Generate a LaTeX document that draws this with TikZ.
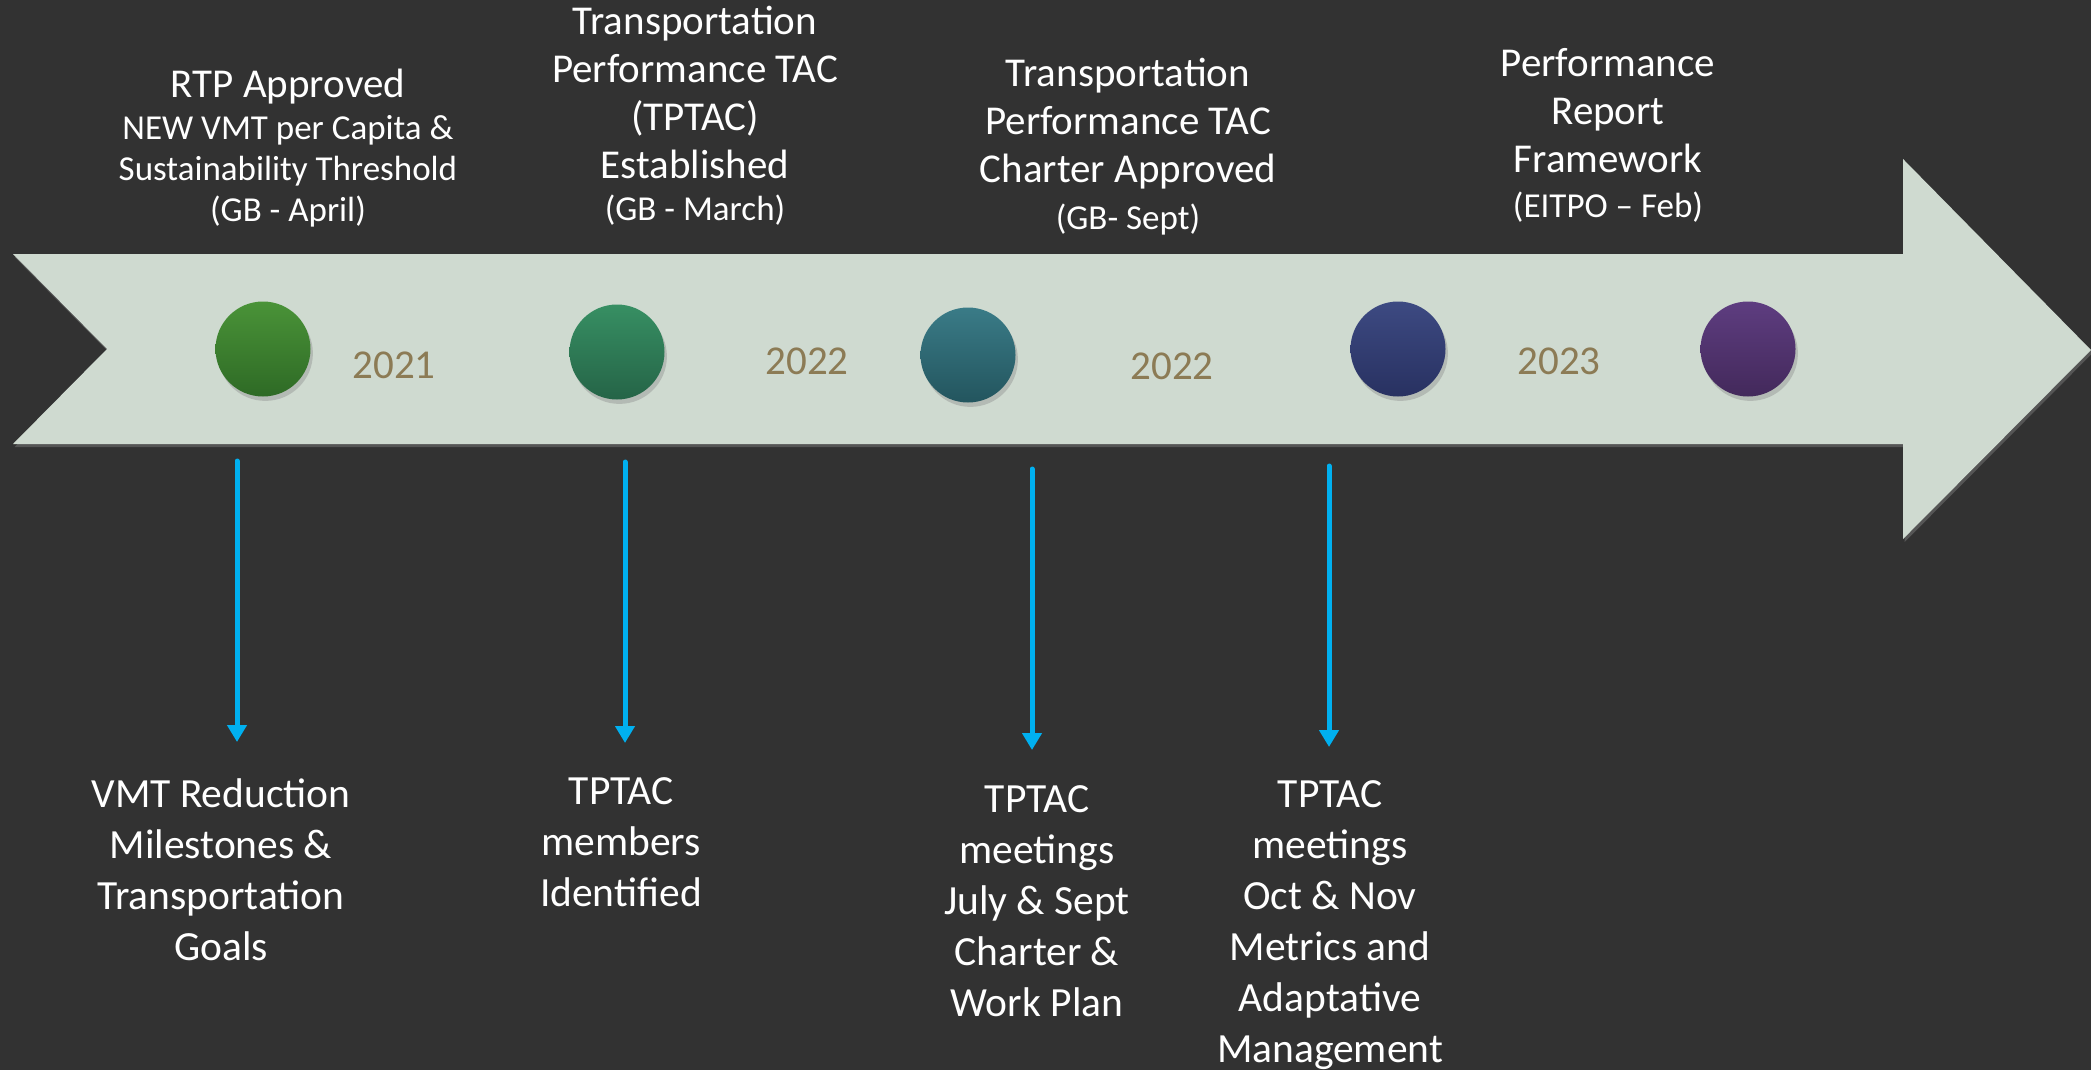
\documentclass[tikz,border=0pt]{standalone}
\usepackage{fontspec}
\setmainfont{Carlito}
\usetikzlibrary{arrows.meta,shadows}

\definecolor{fond}{HTML}{323232}
\definecolor{bande}{HTML}{CFDAD0}
\definecolor{annee}{HTML}{8C7B55}
\definecolor{fleche}{HTML}{00B0F0}
\definecolor{vertHaut}{HTML}{4A9338}
\definecolor{vertBas}{HTML}{2E6A25}
\definecolor{emeraudeHaut}{HTML}{378F63}
\definecolor{emeraudeBas}{HTML}{256447}
\definecolor{sarcelleHaut}{HTML}{3A7B87}
\definecolor{sarcelleBas}{HTML}{23555E}
\definecolor{bleuHaut}{HTML}{3D4A82}
\definecolor{bleuBas}{HTML}{283161}
\definecolor{violetHaut}{HTML}{5E3D80}
\definecolor{violetBas}{HTML}{43295B}

\begin{document}
\begin{tikzpicture}[x=0.5pt,y=-0.5pt]
    \tikzset{PuceStyle/.style =   {circle,minimum size=47.5pt,inner sep=0pt,top color=#1Haut,bottom color=#1Bas,
                                   drop shadow={opacity=.35,shadow xshift=1.2pt,shadow yshift=-2.2pt}}}
    \tikzset{AnneeStyle/.style =  {text=annee,inner sep=0pt,font=\fontsize{20.5}{24}\selectfont}}
    \tikzset{TitreStyle/.style =  {text=white,align=center,inner sep=0pt,font=\fontsize{20.5}{24}\selectfont}}
    \tikzset{DateStyle/.style =   {text=white,align=center,inner sep=0pt,font=\fontsize{17.5}{20.5}\selectfont}}
    \tikzset{NoteStyle/.style =   {text=white,align=center,inner sep=0pt,font=\fontsize{20.75}{25.5}\selectfont}}
    \tikzset{FlecheStyle/.style = {draw=fleche,line width=2.5pt,line cap=round,-{Triangle[width=9.5pt,length=8.5pt]}}}

    \useasboundingbox (0,0) rectangle (2091,1070);
    \fill[fond] (0,0) rectangle (2091,1070);

    % bande
    \path[fill=bande,drop shadow={opacity=.45,shadow xshift=.8pt,shadow yshift=-1.5pt}]
      (13,254) -- (1903,254) -- (1903,159) -- (2091,350) -- (1903,539)
      -- (1903,444) -- (13,444) -- (107,349) -- cycle;

    % jalons
    \node[PuceStyle=vert]      (p1) at (263,349) {};
    \node[PuceStyle=emeraude]  (p2) at (617,352) {};
    \node[PuceStyle=sarcelle]  (p3) at (968,355) {};
    \node[PuceStyle=bleu]      (p4) at (1398,349) {};
    \node[PuceStyle=violet]    (p5) at (1748,349) {};

    \node[AnneeStyle] (an1) at (394,365)  {2021};
    \node[AnneeStyle] (an2) at (807,361)  {2022};
    \node[AnneeStyle] (an3) at (1172,366) {2022};
    \node[AnneeStyle] (an4) at (1559,361) {2023};

    % en haut
    \node[TitreStyle] (ti1) at (288,87)   {RTP Approved};
    \node[DateStyle]  (da1) at (288,171)  {NEW VMT per Capita \&\\Sustainability Threshold\\(GB - April)};
    \node[TitreStyle] (ti2) at (695,92)   {Transportation\\Performance TAC\\(TPTAC)\\Established};
    \node[DateStyle]  (da2) at (695,210)  {(GB - March)};
    \node[TitreStyle] (ti3) at (1128,124) {Transportation\\Performance TAC\\Charter Approved};
    \node[DateStyle]  (da3) at (1128,220) {(GB- Sept)};
    \node[TitreStyle] (ti4) at (1608,111) {Performance\\Report\\Framework};
    \node[DateStyle]  (da4) at (1608,207) {(EITPO – Feb)};

    % en bas
    \node[NoteStyle] (no1) at (221,870)  {VMT Reduction\\Milestones \&\\Transportation\\Goals};
    \node[NoteStyle] (no2) at (621,842)  {TPTAC\\members\\Identified};
    \node[NoteStyle] (no3) at (1037,901) {TPTAC\\meetings\\July \& Sept\\Charter \&\\Work Plan};
    \node[NoteStyle] (no4) at (1330,925) {TPTAC\\meetings\\Oct \& Nov\\Metrics and\\Adaptative\\Management};

    \coordinate (h1) at (237,461);  \coordinate (f1) at (237,742);
    \coordinate (h2) at (625,462);  \coordinate (f2) at (625,743);
    \coordinate (h3) at (1032,469); \coordinate (f3) at (1032,750);
    \coordinate (h4) at (1329,466); \coordinate (f4) at (1329,747);

    \draw[FlecheStyle] (h1) -- (f1);
    \draw[FlecheStyle] (h2) -- (f2);
    \draw[FlecheStyle] (h3) -- (f3);
    \draw[FlecheStyle] (h4) -- (f4);
\end{tikzpicture}
\end{document}
